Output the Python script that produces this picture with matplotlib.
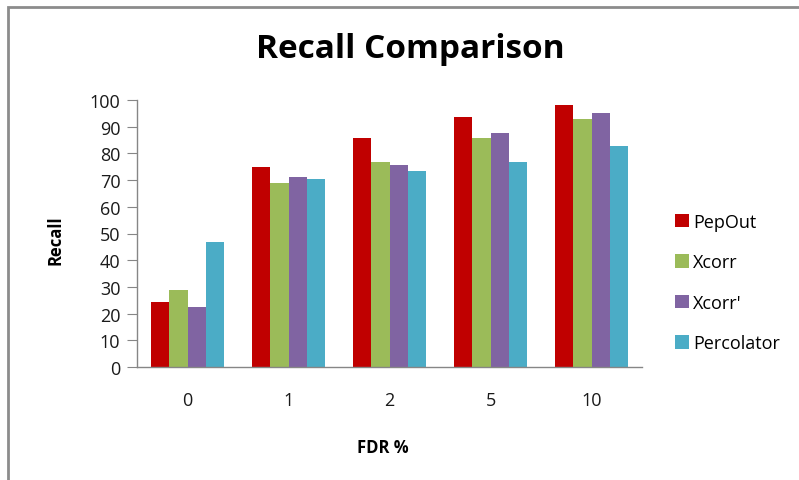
import numpy as np
import matplotlib
matplotlib.use("Agg")
import matplotlib.pyplot as plt
from matplotlib.patches import Rectangle

# recall (%) at each FDR threshold
fdr_labels = ["0", "1", "2", "5", "10"]
series_names = ["PepOut", "Xcorr", "Xcorr'", "Percolator"]
pepout = [24.5, 75.0, 85.8, 93.7, 98.1]
xcorr = [28.7, 68.9, 76.9, 85.7, 92.9]
xcorr_prime = [22.3, 71.0, 75.8, 87.8, 95.0]
percolator = [46.7, 70.3, 73.4, 76.7, 82.7]

COLORS = ["#C00000", "#9BBB59", "#8064A2", "#4BACC6"]
AXIS_GRAY = "#868686"

plt.rcParams["font.family"] = ["Open Sans", "DejaVu Sans"]

W, H = 799, 481
fig = plt.figure(figsize=(W / 100, H / 100), dpi=100)
fig.patch.set_facecolor("white")

# chart-area outline (runs off the right and bottom edges)
fig.add_artist(Rectangle((7.5 / W, -0.1), 1.2, 1.1 - 7.5 / H,
                         transform=fig.transFigure, fill=False,
                         edgecolor="#8C8C8C", linewidth=2.0, clip_on=False))

ax = fig.add_axes([137 / W, 1 - 368 / H, (642 - 137) / W, (368 - 101) / H])

x = np.arange(len(fdr_labels))
width = 0.181
values = [pepout, xcorr, xcorr_prime, percolator]
for k, (name, vals) in enumerate(zip(series_names, values)):
    ax.bar(x + (k - 1.5) * width, vals, width, color=COLORS[k], label=name,
           linewidth=0)

ax.set_xlim(-0.5, len(fdr_labels) - 0.5)
ax.set_ylim(0, 100)
ax.set_yticks(range(0, 101, 10))
ax.set_xticks(x)
ax.set_xticklabels(fdr_labels)

for side in ("top", "right"):
    ax.spines[side].set_visible(False)
for side in ("left", "bottom"):
    ax.spines[side].set_color(AXIS_GRAY)
    ax.spines[side].set_linewidth(1.0)

ax.tick_params(axis="y", direction="out", length=7, color=AXIS_GRAY,
               labelsize=13, pad=5, labelcolor="#1a1a1a")
ax.tick_params(axis="x", length=0, labelsize=13, pad=17, labelcolor="#1a1a1a")

fig.text(410 / W, 1 - 50 / H, "Recall Comparison", ha="center", va="center",
         fontsize=24, fontweight="bold")
fig.text(56 / W, 1 - 240 / H, "Recall", ha="center", va="center",
         rotation=90, fontsize=12, fontweight="bold")
fig.text(383 / W, 1 - 448 / H, "FDR %", ha="center", va="center",
         fontsize=12, fontweight="bold")

leg = ax.legend(loc="upper left", bbox_to_anchor=(1.051, 0.605), frameon=False,
                fontsize=13, handlelength=0.75, handleheight=0.75,
                handletextpad=0.25, labelspacing=1.25, borderaxespad=0)

fig.savefig("out.png", dpi=100)
